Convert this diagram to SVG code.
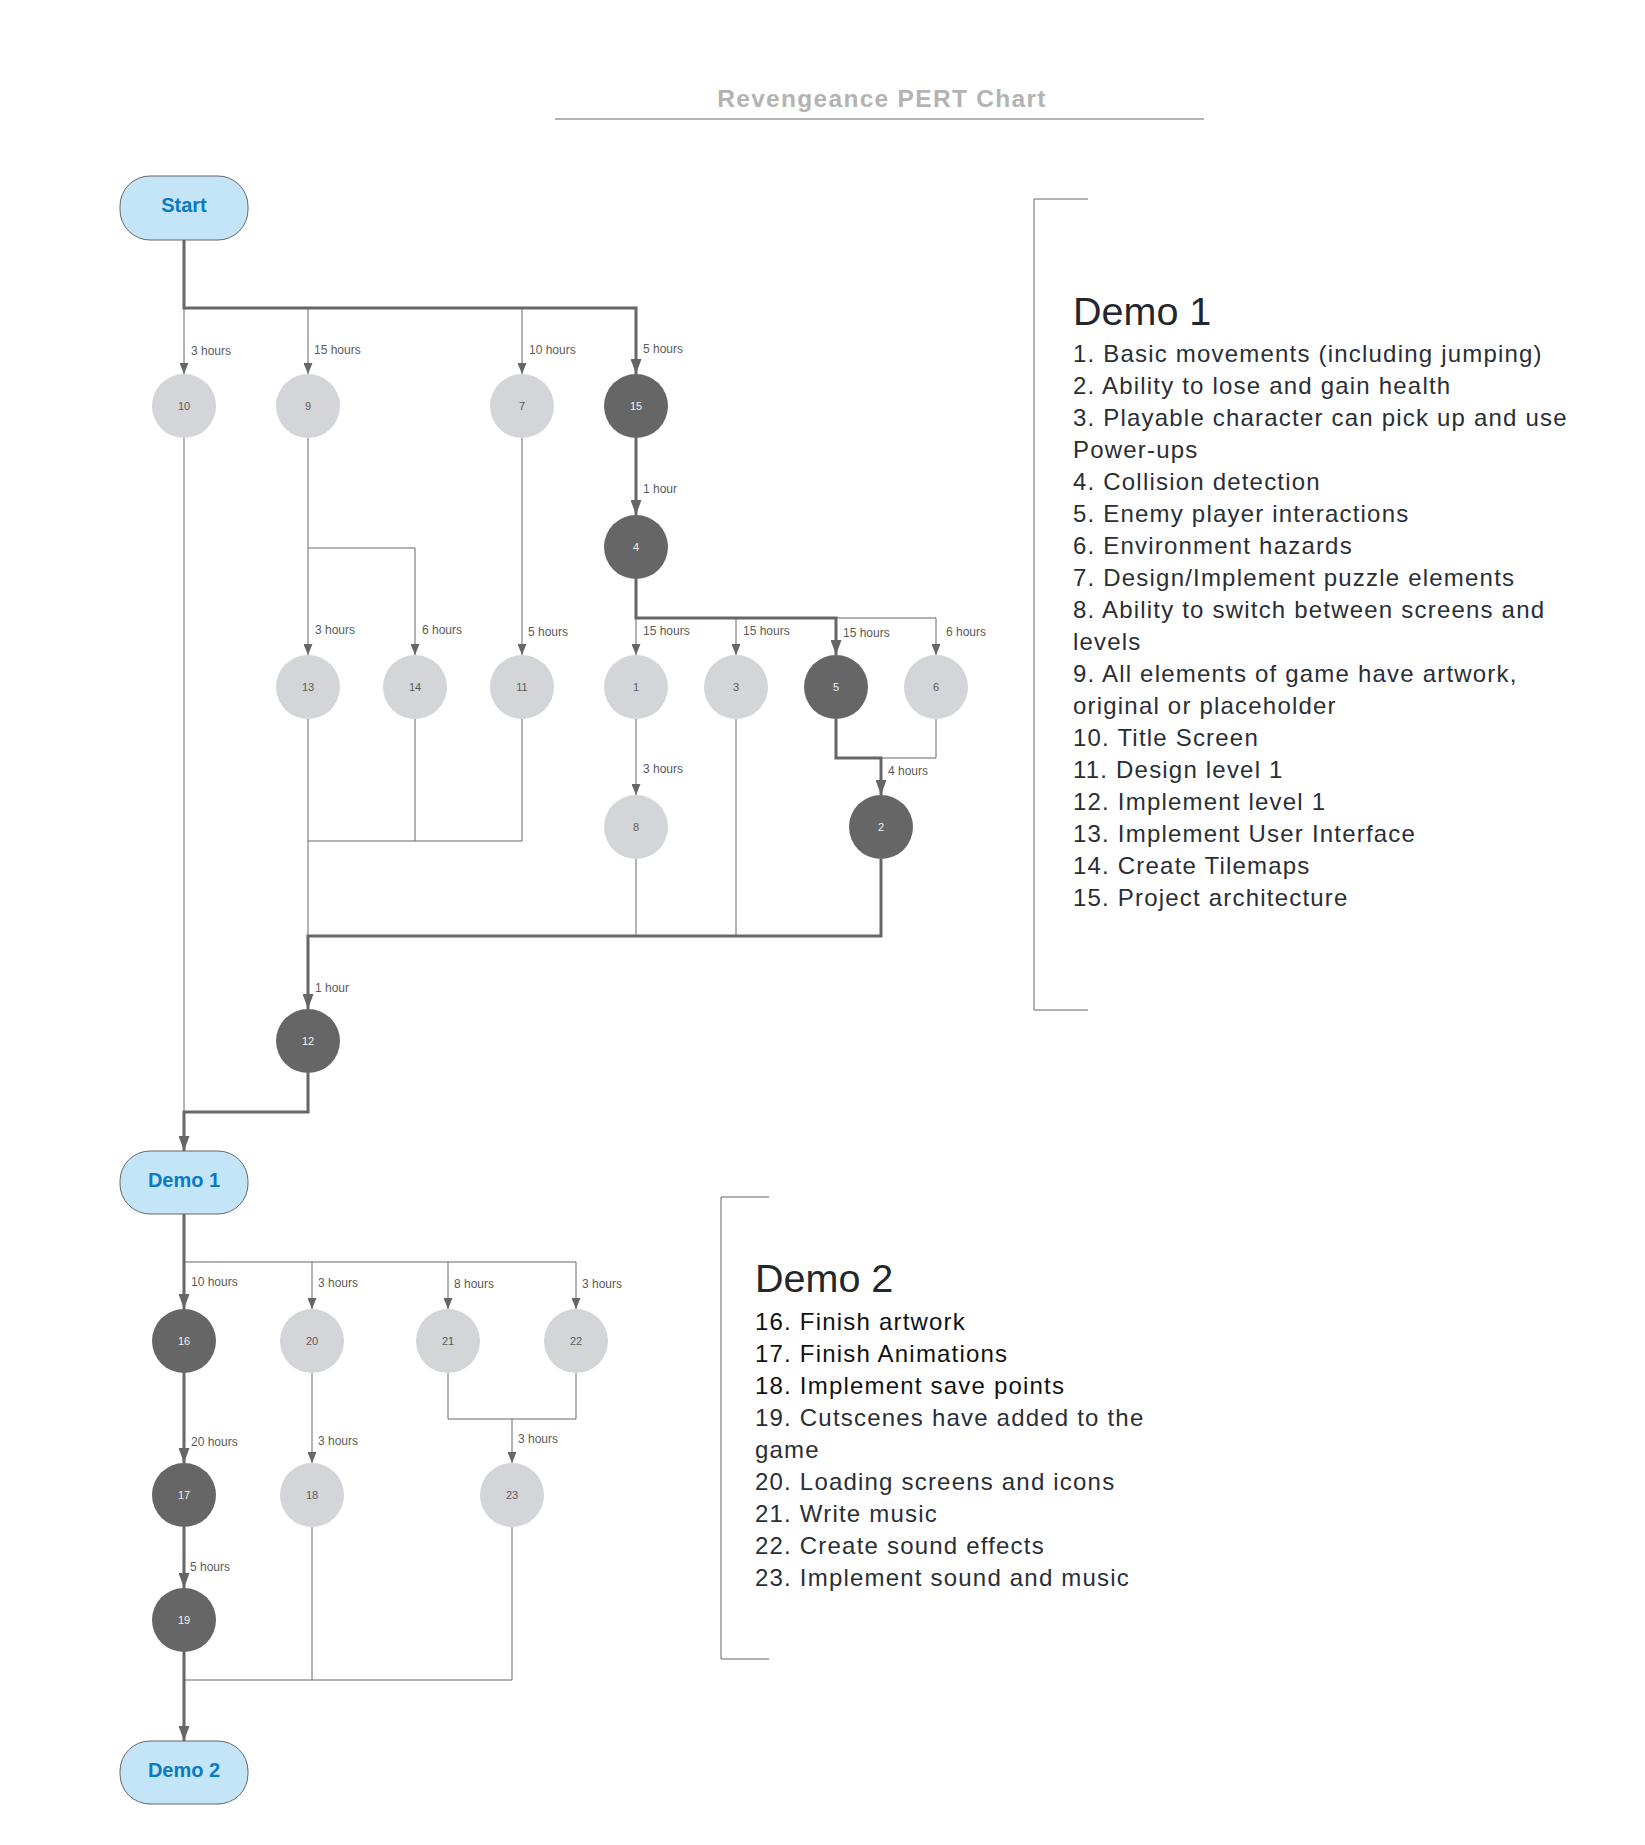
<svg xmlns="http://www.w3.org/2000/svg" width="1645" height="1845" viewBox="0 0 1645 1845">
  <defs>
    <style>
      .title { font-family: "Liberation Sans", Arial, sans-serif; font-size: 24.5px; font-weight: bold; letter-spacing: 1.3px; fill: #b3b3b3; text-anchor: middle; }
      .term rect { fill: #c3e5f7; stroke: #666666; stroke-width: 1; }
      .term text { font-family: "Liberation Sans", Arial, sans-serif; font-size: 20px; font-weight: bold; fill: #0b7bc1; text-anchor: middle; }
      .task circle { stroke: none; }
      .task text { font-family: "Liberation Sans", Arial, sans-serif; font-size: 11px; text-anchor: middle; }
      .light circle { fill: #d3d5d8; }
      .light text { fill: #5a5a5a; }
      .dark circle { fill: #666666; }
      .dark text { fill: #f2f2f2; }
      .thin { fill: none; stroke: #666666; stroke-width: 1; }
      .thick { fill: none; stroke: #666666; stroke-width: 3; }
      .dur { font-family: "Liberation Sans", Arial, sans-serif; font-size: 12px; fill: #5a5a5a; }
      .bracket { fill: none; stroke: #666666; stroke-width: 1; }
      .head { font-family: "Liberation Sans", Arial, sans-serif; font-size: 39.5px; fill: #23272d; }
      .item { font-family: "Liberation Sans", Arial, sans-serif; font-size: 24px; letter-spacing: 1.2px; fill: #2a2e35; }
      .item.blk { fill: #111111; }
    </style>
    <marker id="arrow-thin" viewBox="0 0 11 9" refX="11" refY="4.5" markerWidth="11" markerHeight="9" markerUnits="userSpaceOnUse" orient="auto">
      <path d="M0,0 L11,4.5 L0,9 z" fill="#666666"/>
    </marker>
    <marker id="arrow-thick" viewBox="0 0 15 11" refX="15" refY="5.5" markerWidth="15" markerHeight="11" markerUnits="userSpaceOnUse" orient="auto">
      <path d="M0,0 L15,5.5 L0,11 z" fill="#666666"/>
    </marker>
  </defs>

  <rect x="0" y="0" width="1645" height="1845" fill="#ffffff"/>

  <!-- heading -->
  <g id="title">
    <text class="title" x="882" y="106.5">Revengeance PERT Chart</text>
    <line x1="555" y1="119" x2="1204" y2="119" stroke="#b3b3b3" stroke-width="2"/>
  </g>

  <!-- connectors -->
  <g id="connectors">
    <!-- critical path -->
    <path class="thick" d="M184 240 V308 H636 V374" marker-end="url(#arrow-thick)"/>
    <path class="thick" d="M636 438 V515" marker-end="url(#arrow-thick)"/>
    <path class="thick" d="M636 579 V618 H836 V655" marker-end="url(#arrow-thick)"/>
    <path class="thick" d="M836 719 V758 H881 V795" marker-end="url(#arrow-thick)"/>
    <path class="thick" d="M881 859 V936 H308 V1009" marker-end="url(#arrow-thick)"/>
    <path class="thick" d="M308 1073 V1112 H184 V1151" marker-end="url(#arrow-thick)"/>
    <path class="thick" d="M184 1214 V1309" marker-end="url(#arrow-thick)"/>
    <path class="thick" d="M184 1373 V1463" marker-end="url(#arrow-thick)"/>
    <path class="thick" d="M184 1527 V1588" marker-end="url(#arrow-thick)"/>
    <path class="thick" d="M184 1652 V1741" marker-end="url(#arrow-thick)"/>

    <!-- Demo 1 branches -->
    <path class="thin" d="M184 308 V374" marker-end="url(#arrow-thin)"/>
    <path class="thin" d="M308 308 V374" marker-end="url(#arrow-thin)"/>
    <path class="thin" d="M522 308 V374" marker-end="url(#arrow-thin)"/>
    <path class="thin" d="M184 438 V1112"/>
    <path class="thin" d="M308 438 V655" marker-end="url(#arrow-thin)"/>
    <path class="thin" d="M308 548 H415 V655" marker-end="url(#arrow-thin)"/>
    <path class="thin" d="M522 438 V655" marker-end="url(#arrow-thin)"/>
    <path class="thin" d="M636 618 V655" marker-end="url(#arrow-thin)"/>
    <path class="thin" d="M736 618 V655" marker-end="url(#arrow-thin)"/>
    <path class="thin" d="M836 618 H936 V655" marker-end="url(#arrow-thin)"/>
    <path class="thin" d="M936 719 V758 H881"/>
    <path class="thin" d="M636 719 V795" marker-end="url(#arrow-thin)"/>
    <path class="thin" d="M636 859 V936"/>
    <path class="thin" d="M736 719 V936"/>
    <path class="thin" d="M308 719 V936"/>
    <path class="thin" d="M415 719 V841 H308"/>
    <path class="thin" d="M522 719 V841 H415"/>

    <!-- Demo 2 branches -->
    <path class="thin" d="M184 1262 H576 V1309" marker-end="url(#arrow-thin)"/>
    <path class="thin" d="M312 1262 V1309" marker-end="url(#arrow-thin)"/>
    <path class="thin" d="M448 1262 V1309" marker-end="url(#arrow-thin)"/>
    <path class="thin" d="M312 1373 V1463" marker-end="url(#arrow-thin)"/>
    <path class="thin" d="M448 1373 V1419 H576 V1373"/>
    <path class="thin" d="M512 1419 V1463" marker-end="url(#arrow-thin)"/>
    <path class="thin" d="M312 1527 V1680"/>
    <path class="thin" d="M512 1527 V1680 H184"/>

    <!-- durations -->
    <text class="dur" x="191" y="355">3 hours</text>
    <text class="dur" x="314" y="354">15 hours</text>
    <text class="dur" x="529" y="354">10 hours</text>
    <text class="dur" x="643" y="353">5 hours</text>
    <text class="dur" x="643" y="493">1 hour</text>
    <text class="dur" x="315" y="634">3 hours</text>
    <text class="dur" x="422" y="634">6 hours</text>
    <text class="dur" x="528" y="636">5 hours</text>
    <text class="dur" x="643" y="635">15 hours</text>
    <text class="dur" x="743" y="635">15 hours</text>
    <text class="dur" x="843" y="637">15 hours</text>
    <text class="dur" x="946" y="636">6 hours</text>
    <text class="dur" x="643" y="773">3 hours</text>
    <text class="dur" x="888" y="775">4 hours</text>
    <text class="dur" x="315" y="992">1 hour</text>
    <text class="dur" x="191" y="1286">10 hours</text>
    <text class="dur" x="318" y="1287">3 hours</text>
    <text class="dur" x="454" y="1288">8 hours</text>
    <text class="dur" x="582" y="1288">3 hours</text>
    <text class="dur" x="191" y="1446">20 hours</text>
    <text class="dur" x="318" y="1445">3 hours</text>
    <text class="dur" x="518" y="1443">3 hours</text>
    <text class="dur" x="190" y="1571">5 hours</text>
  </g>

  <!-- milestones -->
  <g id="start" class="term">
    <rect x="120" y="176" width="128" height="64" rx="30" ry="30"/>
    <text x="184" y="212">Start</text>
  </g>
  <g id="demo1" class="term">
    <rect x="120" y="1151" width="128" height="63" rx="30" ry="30"/>
    <text x="184" y="1186.5">Demo 1</text>
  </g>
  <g id="demo2" class="term">
    <rect x="120" y="1741" width="128" height="63" rx="30" ry="30"/>
    <text x="184" y="1777">Demo 2</text>
  </g>

  <!-- tasks -->
  <g id="task-10" class="task light"><circle cx="184" cy="406" r="32"/><text x="184" y="410">10</text></g>
  <g id="task-9" class="task light"><circle cx="308" cy="406" r="32"/><text x="308" y="410">9</text></g>
  <g id="task-7" class="task light"><circle cx="522" cy="406" r="32"/><text x="522" y="410">7</text></g>
  <g id="task-15" class="task dark"><circle cx="636" cy="406" r="32"/><text x="636" y="410">15</text></g>
  <g id="task-4" class="task dark"><circle cx="636" cy="547" r="32"/><text x="636" y="551">4</text></g>
  <g id="task-13" class="task light"><circle cx="308" cy="687" r="32"/><text x="308" y="691">13</text></g>
  <g id="task-14" class="task light"><circle cx="415" cy="687" r="32"/><text x="415" y="691">14</text></g>
  <g id="task-11" class="task light"><circle cx="522" cy="687" r="32"/><text x="522" y="691">11</text></g>
  <g id="task-1" class="task light"><circle cx="636" cy="687" r="32"/><text x="636" y="691">1</text></g>
  <g id="task-3" class="task light"><circle cx="736" cy="687" r="32"/><text x="736" y="691">3</text></g>
  <g id="task-5" class="task dark"><circle cx="836" cy="687" r="32"/><text x="836" y="691">5</text></g>
  <g id="task-6" class="task light"><circle cx="936" cy="687" r="32"/><text x="936" y="691">6</text></g>
  <g id="task-8" class="task light"><circle cx="636" cy="827" r="32"/><text x="636" y="831">8</text></g>
  <g id="task-2" class="task dark"><circle cx="881" cy="827" r="32"/><text x="881" y="831">2</text></g>
  <g id="task-12" class="task dark"><circle cx="308" cy="1041" r="32"/><text x="308" y="1045">12</text></g>
  <g id="task-16" class="task dark"><circle cx="184" cy="1341" r="32"/><text x="184" y="1345">16</text></g>
  <g id="task-20" class="task light"><circle cx="312" cy="1341" r="32"/><text x="312" y="1345">20</text></g>
  <g id="task-21" class="task light"><circle cx="448" cy="1341" r="32"/><text x="448" y="1345">21</text></g>
  <g id="task-22" class="task light"><circle cx="576" cy="1341" r="32"/><text x="576" y="1345">22</text></g>
  <g id="task-17" class="task dark"><circle cx="184" cy="1495" r="32"/><text x="184" y="1499">17</text></g>
  <g id="task-18" class="task light"><circle cx="312" cy="1495" r="32"/><text x="312" y="1499">18</text></g>
  <g id="task-23" class="task light"><circle cx="512" cy="1495" r="32"/><text x="512" y="1499">23</text></g>
  <g id="task-19" class="task dark"><circle cx="184" cy="1620" r="32"/><text x="184" y="1624">19</text></g>

  <!-- task lists -->
  <g id="legend-demo1">
    <path class="bracket" d="M1088 199 H1034 V1010 H1088"/>
    <text class="head" x="1073" y="325">Demo 1</text>
    <text class="item" x="1073" y="361.5">1. Basic movements (including jumping)</text>
    <text class="item" x="1073" y="393.5">2. Ability to lose and gain health</text>
    <text class="item" x="1073" y="425.5">3. Playable character can pick up and use</text>
    <text class="item" x="1073" y="457.5">Power-ups</text>
    <text class="item" x="1073" y="489.5">4. Collision detection</text>
    <text class="item" x="1073" y="521.5">5. Enemy player interactions</text>
    <text class="item" x="1073" y="553.5">6. Environment hazards</text>
    <text class="item" x="1073" y="585.5">7. Design/Implement puzzle elements</text>
    <text class="item" x="1073" y="617.5">8. Ability to switch between screens and</text>
    <text class="item" x="1073" y="649.5">levels</text>
    <text class="item" x="1073" y="681.5">9. All elements of game have artwork,</text>
    <text class="item" x="1073" y="713.5">original or placeholder</text>
    <text class="item" x="1073" y="745.5">10. Title Screen</text>
    <text class="item" x="1073" y="777.5">11. Design level 1</text>
    <text class="item" x="1073" y="809.5">12. Implement level 1</text>
    <text class="item" x="1073" y="841.5">13. Implement User Interface</text>
    <text class="item" x="1073" y="873.5">14. Create Tilemaps</text>
    <text class="item" x="1073" y="905.5">15. Project architecture</text>
  </g>

  <g id="legend-demo2">
    <path class="bracket" d="M769 1197 H721 V1659 H769"/>
    <text class="head" x="755" y="1291.5">Demo 2</text>
    <text class="item blk" x="755" y="1330">16. Finish artwork</text>
    <text class="item blk" x="755" y="1362">17. Finish Animations</text>
    <text class="item blk" x="755" y="1394">18. Implement save points</text>
    <text class="item" x="755" y="1426">19. Cutscenes have added to the</text>
    <text class="item" x="755" y="1458">game</text>
    <text class="item" x="755" y="1490">20. Loading screens and icons</text>
    <text class="item" x="755" y="1522">21. Write music</text>
    <text class="item" x="755" y="1554">22. Create sound effects</text>
    <text class="item" x="755" y="1586">23. Implement sound and music</text>
  </g>
</svg>
